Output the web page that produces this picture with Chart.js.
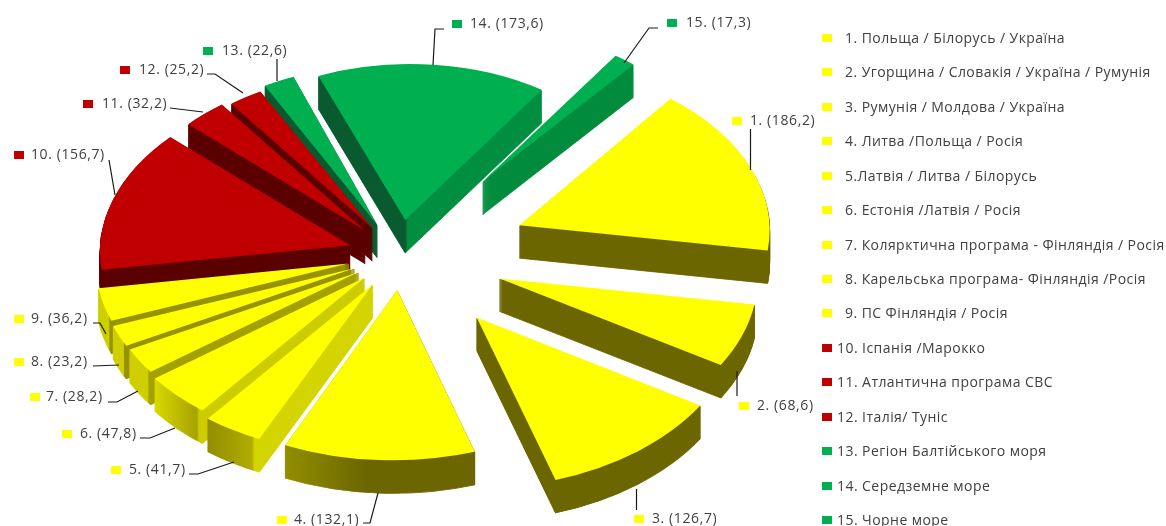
<!DOCTYPE html>
<html>
<head>
<meta charset="utf-8">
<script src="https://cdn.jsdelivr.net/npm/chart.js@4"></script>
<style>
  html, body { margin: 0; padding: 0; background: #fff; overflow: hidden; }
  #wrap { position: relative; width: 1166px; height: 526px; }
  canvas { display: block; }
  .row { position: absolute; left: 822px; height: 20px; line-height: 20px; white-space: nowrap;
         font: 14px/20px "Open Sans", sans-serif; letter-spacing: 0.44px; color: #404040; }
  .row i { position: absolute; left: 0; top: 6px; width: 10px; height: 8px; }
</style>
</head>
<body>
<div id="wrap">
  <canvas id="chart" width="1166" height="526"></canvas>
  <div id="legend"></div>
</div>
<script>
// Data
const regions = [
  '1. Польща / Білорусь / Україна',
  '2. Угорщина / Словакія / Україна / Румунія',
  '3. Румунія / Молдова / Україна',
  '4. Литва /Польща / Росія',
  '5.Латвія / Литва / Білорусь',
  '6. Естонія /Латвія / Росія',
  '7. Колярктична програма - Фінляндія / Росія',
  '8. Карельська програма- Фінляндія /Росія',
  '9. ПС Фінляндія / Росія',
  '10. Іспанія /Марокко',
  '11. Атлантична програма СВС',
  '12. Італія/ Туніс',
  '13. Регіон Балтійського моря',
  '14. Середземне море',
  '15. Чорне море'
];
const funding = [186.2, 68.6, 126.7, 132.1, 41.7, 47.8, 28.2, 23.2, 36.2, 156.7, 32.2, 25.2, 22.6, 173.6, 17.3];
const valueLabels = ['1. (186,2)', '2. (68,6)', '3. (126,7)', '4. (132,1)', '5. (41,7)', '6. (47,8)', '7. (28,2)', '8. (23,2)', '9. (36,2)', '10. (156,7)', '11. (32,2)', '12. (25,2)', '13. (22,6)', '14. (173,6)', '15. (17,3)'];

// Colours
const YELLOW = '#ffff00', RED = '#c00000', GREEN = '#00b050';
const sliceColors = [YELLOW, YELLOW, YELLOW, YELLOW, YELLOW, YELLOW, YELLOW, YELLOW, YELLOW, RED, RED, RED, GREEN, GREEN, GREEN];

// Side wall shades, as gradient stops across the slice width (0 left edge, 0.5 tip, 1 right edge)
const OLIVE = [[0, '#6b6600'], [1, '#6b6600']];
const MAROON = [[0, '#5a0000'], [1, '#5a0000']];
const sideShades = [
  OLIVE, OLIVE, OLIVE,
  [[0.29, '#938f00'], [0.45, '#6b6600'], [1, '#6b6600']],
  [[0.186, '#8f8b00'], [0.28, '#b0ac00'], [0.285, '#d4d400'], [1, '#d4d400']],
  [[0.095, '#dcdc00'], [0.183, '#a6a200'], [0.187, '#cccc00'], [1, '#cccc00']],
  [[0.094, '#cfcf00'], [0.096, '#a4a000'], [1, '#a4a000']],
  [[0.052, '#cfcf00'], [0.054, '#969200'], [1, '#969200']],
  [[0.026, '#cfcf00'], [0.028, '#969200'], [1, '#969200']],
  MAROON, MAROON, MAROON,
  [[0, '#0a5a30'], [0.5, '#0a5a30'], [0.505, '#008c3c'], [1, '#008c3c']],
  [[0, '#0a5a30'], [0.5, '#0a5a30'], [0.505, '#008f40'], [1, '#008f40']],
  [[0, '#008c3c'], [1, '#008c3c']]
];

// Pie look: pull-out of each slice, its radius, its lean (fake perspective), paint order (back to front)
const TILT = 0.65, DEPTH = 33, BASE_RADIUS = 250;
const pullOut = [128, 106, 123, 54, 53, 50, 49, 50, 53, 52, 51, 50, 52, 54, 140];
const sliceRadius = [250, 258, 263, 262, 261, 258, 256, 256, 253, 250, 246, 242, 246, 240, 232];
const sliceLean = [-0.05, 0, 0.02, 0.025, 0.038, 0.03, 0.03, 0.02, 0, 0.06, 0.06, 0.06, 0.07, 0.034, 0.04];
const paintOrder = [13, 14, 0, 1, 2, 12, 11, 10, 9, 8, 7, 6, 5, 4, 3];

// Callouts: marker x, text x, text y, leader polyline
const callouts = [
  [732, 750, 121, [[750.5, 129], [750.5, 170]]],
  [739, 757, 406, [[737, 371], [737, 396]]],
  [634, 652, 519, [[636.5, 489], [636.5, 510]]],
  [277, 294, 520, [[363, 523], [370, 523], [378, 493]]],
  [111, 129, 470, [[189, 474], [198, 474], [234, 462]]],
  [62, 80, 434, [[140, 438], [150, 438], [175, 428]]],
  [30, 46, 397, [[108, 402], [117, 402], [138, 391]]],
  [14, 31, 362, [[93, 366], [119, 365]]],
  [14, 31, 319, [[93, 323], [100, 323], [106, 334]]],
  [14, 31, 155, [[109, 160], [115, 195]]],
  [83, 102, 104, [[170, 108], [203, 112]]],
  [120, 139, 70, [[207, 74], [215, 74], [243, 93]]],
  [203, 222, 51, [[277, 59], [277, 81]]],
  [452, 470, 24, [[444, 29], [435, 29], [433, 65]]],
  [667, 686, 23, [[658, 28], [649, 28], [624, 63]]]
];

const LABEL_FONT = '14px "Open Sans"';
const TEXT_COLOR = '#404040';

// Draws the pie as tilted, extruded slices using the arcs chart.js has laid out
const tiltedPie = {
  id: 'tiltedPie',
  beforeDatasetsDraw(chart) {
    const ctx = chart.ctx;
    const arcs = chart.getDatasetMeta(0).data;
    paintOrder.forEach(i => {
      const arc = arcs[i];
      const opts = arc.options;
      const mid = (arc.startAngle + arc.endAngle) / 2;
      const tipX = arc.x + Math.cos(mid) * pullOut[i];
      const tipY = arc.y + Math.sin(mid) * pullOut[i] * TILT;
      const s = sliceRadius[i] / BASE_RADIUS;
      const top = opts.backgroundColor;

      const place = dy => {
        ctx.save();
        ctx.translate(tipX, tipY + dy);
        ctx.transform(1, 0, -sliceLean[i], 1, 0, 0);
        ctx.scale(s, s * TILT);
        ctx.translate(-arc.x, -arc.y);
        arc.draw(ctx);
        ctx.restore();
      };

      const grad = ctx.createLinearGradient(arc.x - BASE_RADIUS, 0, arc.x + BASE_RADIUS, 0);
      sideShades[i].forEach(st => grad.addColorStop(st[0], st[1]));
      // thin stroke keeps the sharp tips of the walls solid
      opts.backgroundColor = grad;
      opts.borderColor = grad;
      opts.borderWidth = 1;
      opts.borderJoinStyle = 'round';
      for (let d = DEPTH; d > 0; d--) place(d);
      opts.backgroundColor = top;
      opts.borderWidth = 0;
      place(0);
    });
    return false;
  },
  afterDraw(chart) {
    const ctx = chart.ctx;
    ctx.save();
    ctx.font = LABEL_FONT;
    ctx.letterSpacing = '0.6px';
    ctx.textBaseline = 'middle';
    callouts.forEach((c, i) => {
      ctx.fillStyle = sliceColors[i];
      ctx.fillRect(c[0], c[2] - 4, 10, 8);
      ctx.fillStyle = TEXT_COLOR;
      ctx.fillText(valueLabels[i], c[1], c[2]);
      ctx.strokeStyle = '#1a1a1a';
      ctx.lineWidth = 1.2;
      ctx.beginPath();
      c[3].forEach((p, j) => j ? ctx.lineTo(p[0], p[1]) : ctx.moveTo(p[0], p[1]));
      ctx.stroke();
    });
    ctx.restore();
  }
};

new Chart(document.getElementById('chart'), {
  type: 'pie',
  data: {
    labels: regions,
    datasets: [{
      data: funding,
      backgroundColor: sliceColors,
      borderWidth: 0
    }]
  },
  options: {
    responsive: false,
    animation: false,
    rotation: 39,
    radius: BASE_RADIUS,
    layout: { padding: { right: 366, bottom: 16 } },
    plugins: {
      tooltip: { enabled: false },
      legend: { display: false }
    }
  },
  plugins: [tiltedPie]
});

// Legend as html, one row per region
const legendBox = document.getElementById('legend');
regions.forEach((name, i) => {
  const row = document.createElement('div');
  row.className = 'row';
  row.style.top = (28 + i * 34.43) + 'px';
  row.style.paddingLeft = (i < 9 ? 23 : 15) + 'px';
  const mark = document.createElement('i');
  mark.style.background = sliceColors[i];
  row.appendChild(mark);
  row.appendChild(document.createTextNode(name));
  legendBox.appendChild(row);
});
</script>
</body>
</html>
